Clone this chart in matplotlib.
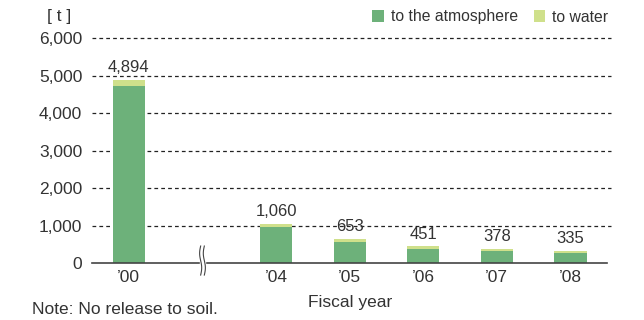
import numpy as np
import matplotlib.pyplot as plt
from matplotlib.transforms import blended_transform_factory

plt.rcParams['font.family'] = ['Liberation Sans', 'DejaVu Sans']

# release amounts by fiscal year [t]
years = ["’00", "’04", "’05", "’06", "’07", "’08"]
totals = [4894, 1060, 653, 451, 378, 335]
to_water = [164, 90, 80, 70, 55, 55]
to_air = [t - w for t, w in zip(totals, to_water)]

# '00 sits apart from the rest, with a gap marked by a break sign
x_pos = [0, 2, 3, 4, 5, 6]

air_color = "#6db17a"
water_color = "#cfe08b"
text_color = "#333333"

fig = plt.figure(figsize=(6.44, 3.2), dpi=100)
ax = fig.add_axes([0.143, 0.177, 0.8, 0.703])

ax.bar(x_pos, to_air, width=0.435, color=air_color, label="to the atmosphere", zorder=3)
ax.bar(x_pos, to_water, width=0.435, bottom=to_air, color=water_color, label="to water", zorder=3)

for x, t in zip(x_pos, totals):
    ax.annotate(f"{t:,}", (x, t), xytext=(0, 3.5), textcoords="offset points",
                ha="center", va="bottom", fontsize=12, color=text_color)

ax.set_xlim(-0.5, 6.5)
ax.set_ylim(0, 6000)

# dashed grid lines
for y in range(1000, 7000, 1000):
    ax.plot([-0.5, 6.55], [y, y], color="#222222", lw=0.9, ls=(0, (3, 2.5)),
            clip_on=False, zorder=1)

for s in ["top", "right", "left"]:
    ax.spines[s].set_visible(False)
ax.spines["bottom"].set_color("#444444")
ax.spines["bottom"].set_linewidth(1.2)
ax.spines["bottom"].set_zorder(4)

ax.set_xticks(x_pos)
ax.set_xticklabels(years)
ax.set_yticks(range(0, 7000, 1000))
ax.set_yticklabels([f"{v:,}" for v in range(0, 7000, 1000)])
ax.tick_params(axis="both", length=0, labelsize=12.5, colors=text_color)
ax.tick_params(axis="y", pad=7)
ax.tick_params(axis="x", pad=5)

# axis break sign at the gap
tr = blended_transform_factory(ax.transData, ax.transAxes)
ax.fill_between([0.96, 1.04], -0.06, 0.08, color="white", transform=tr,
                clip_on=False, zorder=5)
yy = np.linspace(-0.052, 0.077, 40)
wave = 0.014 * np.sin((yy + 0.052) / 0.129 * 2 * np.pi)
for dx in (-0.025, 0.025):
    ax.plot(1 + dx + wave, yy, color="#444444", lw=0.8, transform=tr,
            clip_on=False, zorder=6)

fig.text(47 / 644, 1 - 17 / 320, "[ t ]", fontsize=12.5, color=text_color,
         ha="left", va="center")
fig.text(350 / 644, 1 - 303 / 320, "Fiscal year", fontsize=12.5, color=text_color,
         ha="center", va="center")
fig.text(32 / 644, 1 - 310 / 320, "Note: No release to soil.", fontsize=12.5,
         color=text_color, ha="left", va="center")

fig.legend(loc="center right", bbox_to_anchor=(0.945, 1 - 17 / 320), ncol=2,
           frameon=False, fontsize=11.3, handlelength=0.75, handleheight=0.75,
           handletextpad=0.45, columnspacing=1.0, borderaxespad=0, borderpad=0,
           labelcolor=text_color)

fig.savefig("out.png", dpi=100)
